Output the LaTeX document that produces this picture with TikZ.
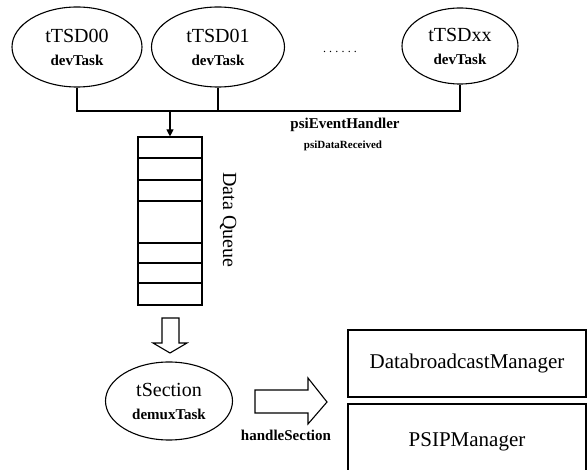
\documentclass[tikz,border=0pt]{standalone}
\usepackage{fontspec}
\setmainfont{Liberation Serif}
\usepackage{tikz}
\usetikzlibrary{shapes.geometric,arrows.meta}

\newcommand{\tasktext}[2]{#1\\[1pt]{\fontsize{15}{16}\selectfont\bfseries #2}}

\begin{document}
\begin{tikzpicture}[x=1pt, y=-1pt, line width=1.1pt,
    task/.style={shape=ellipse, draw, inner sep=0pt, minimum width=130pt, minimum height=80pt, align=center, font=\fontsize{20}{22}\selectfont},
    box/.style={shape=rectangle, draw, inner sep=0pt, minimum width=238pt, font=\fontsize{21}{23}\selectfont},
    lbl/.style={inner sep=0pt, font=\fontsize{15}{16}\selectfont\bfseries},
    hollow/.style={draw, line join=miter}]
    \useasboundingbox (0,0) rectangle (587,470);
    \clip (0,0) rectangle (587,470);

    \node[task] (tsd0) at (77,47) {\tasktext{tTSD00}{devTask}};
    \node[task, minimum width=133pt] (tsd1) at (218,47) {\tasktext{tTSD01}{devTask}};
    \node[task, minimum width=116pt, minimum height=76pt] (tsdx) at (460,46) {\tasktext{tTSDxx}{devTask}};
    \node[inner sep=0pt, font=\fontsize{12}{12}\selectfont] (more) at (340,52) {.\kern3.2pt.\kern3.2pt.\kern3.2pt.\kern3.2pt.\kern3.2pt.};

    \coordinate (bus) at (0,111);
    \draw (tsd0.south) |- (tsdx.south |- bus) -- (tsdx.south);
    \draw (tsd1.south) -- (tsd1.south |- bus);
    \node[lbl] (handler) at (345,125) {psiEventHandler};
    \node[lbl, font=\fontsize{11}{12}\selectfont\bfseries] (received) at (343,146) {psiDataReceived};

    \node[draw, inner sep=0pt, minimum width=64pt, minimum height=168pt] (queue) at (170,221) {};
    \draw[-{Triangle[width=7pt,length=7pt]}] (queue.north |- bus) -- (queue.north);
    \foreach \y in {158,180,201,243,263,283}
      \draw (queue.west |- 0,\y) -- (queue.east |- 0,\y);
    \node[rotate=-90, inner sep=0pt, font=\fontsize{20}{22}\selectfont] (qname) at (228,220) {Data Queue};

    \node[task, minimum width=127pt, minimum height=78pt] (sect) at (169,401) {\tasktext{tSection}{demuxTask}};
    % hollow arrows
    \draw[hollow] (162,318) -- (179,318) -- (179,343) -- (187,343) -- (170,353) -- (153,343) -- (162,343) -- cycle;
    \draw[hollow] (255,390) -- (308,390) -- (308,378) -- (327,402) -- (308,424) -- (308,413) -- (255,413) -- cycle;
    \node[lbl] (handle) at (286,435) {handleSection};

    \node[box, minimum height=67pt] (dbm) at (467,363.5) {DatabroadcastManager};
    \node[box, minimum height=76pt] (psip) at (467,442) {PSIPManager};
  \end{tikzpicture}
\end{document}
